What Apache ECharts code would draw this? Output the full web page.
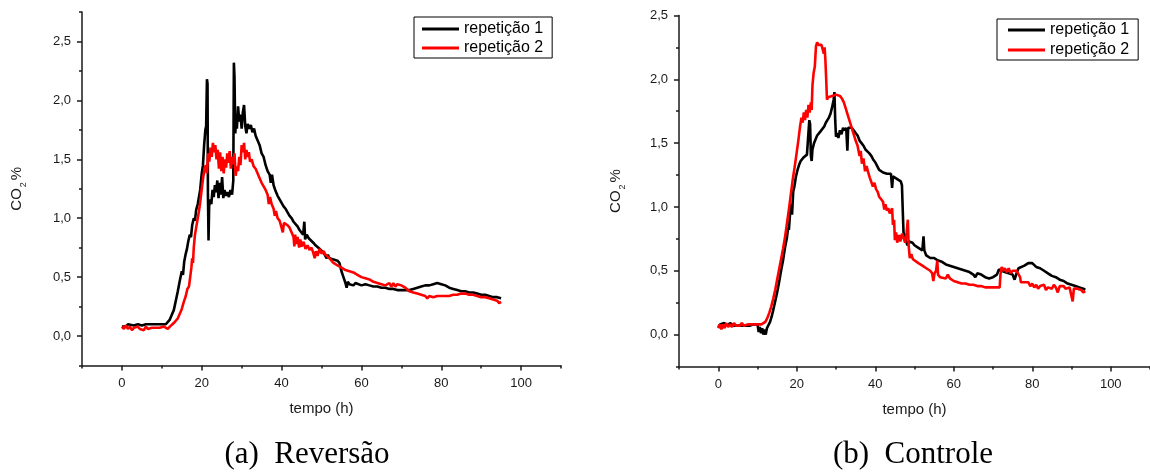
<!DOCTYPE html>
<html>
<head>
<meta charset="utf-8">
<script src="https://cdn.jsdelivr.net/npm/echarts@6/dist/echarts.min.js"></script>
<style>
  html, body { margin: 0; padding: 0; background: #fff; }
  #chart { width: 1150px; height: 475px; }
</style>
</head>
<body>
<div id="chart"></div>
<script>
// CO2 (%) against time (h), two repetitions per treatment
const seriesNames = ['repetição 1', 'repetição 2'];
const panelCaptions = ['(a)  Reversão', '(b)  Controle'];
const xAxisName = 'tempo (h)';

// tick values
const xLabelValues = [0, 20, 40, 60, 80, 100];
const xMinorValues = [-10, 10, 30, 50, 70, 90, 110];
const yLabelValues = [0, 0.5, 1, 1.5, 2, 2.5];
const yMinorValuesA = [-0.25, 0.25, 0.75, 1.25, 1.75, 2.25, 2.75];
const yMinorValuesB = [-0.25, 0.25, 0.75, 1.25, 1.75, 2.25];

// (a) Reversão — repetição 1 : [tempo, CO2]
const reversaoRep1 = [[0,0.08],[0.5,0.09],[1,0.08],[1.5,0.10],[2,0.09],[3,0.09],[4,0.10],[5,0.09],[6,0.10],[7,0.10],[7.5,0.09],[8,0.10],[9,0.10],[10,0.10],[11,0.10],[11.5,0.11],[12,0.14],[12.5,0.18],[13,0.22],[13.5,0.30],[14,0.38],[14.5,0.47],[15,0.55],[15.3,0.52],[15.6,0.63],[16,0.70],[16.3,0.74],[16.6,0.80],[17,0.86],[17.3,0.84],[17.6,0.94],[18,1.00],[18.3,0.98],[18.6,1.07],[19,1.12],[19.3,1.18],[19.6,1.24],[20,1.38],[20.3,1.45],[20.6,1.62],[20.9,1.75],[21.1,1.78],[21.3,2.18],[21.45,2.14],[21.55,1.20],[21.7,0.81],[21.85,1.10],[22.1,1.16],[22.4,1.12],[22.7,1.24],[23,1.18],[23.3,1.28],[23.6,1.22],[23.9,1.32],[24.2,1.17],[24.5,1.30],[24.8,1.20],[25.1,1.35],[25.4,1.17],[25.7,1.24],[26,1.19],[26.4,1.22],[26.8,1.18],[27.2,1.24],[27.6,1.20],[27.9,1.32],[28.05,2.32],[28.2,2.20],[28.4,1.72],[28.6,1.85],[28.8,1.76],[29.1,1.95],[29.4,1.82],[29.7,1.88],[30,1.76],[30.3,1.90],[30.6,1.96],[30.9,1.78],[31.2,1.72],[31.5,1.80],[31.9,1.76],[32.3,1.79],[32.7,1.73],[33.1,1.76],[33.5,1.70],[34,1.66],[34.5,1.62],[35,1.55],[35.5,1.52],[36,1.45],[36.5,1.40],[37,1.37],[37.3,1.30],[37.6,1.37],[38,1.28],[38.5,1.23],[39,1.19],[39.5,1.16],[40,1.13],[40.5,1.10],[41,1.08],[41.5,1.05],[42,1.02],[42.5,1.00],[43,0.97],[43.5,0.95],[44,0.93],[44.5,0.90],[45,0.89],[45.4,0.86],[45.7,0.97],[45.9,0.82],[46.3,0.86],[46.8,0.83],[47.3,0.82],[48,0.79],[48.5,0.77],[49,0.76],[49.5,0.74],[50,0.73],[50.5,0.71],[51,0.70],[51.3,0.66],[51.6,0.69],[52,0.66],[52.5,0.66],[53,0.65],[53.5,0.66],[54,0.64],[54.5,0.62],[55,0.55],[55.5,0.50],[56,0.45],[56.3,0.41],[56.6,0.46],[57,0.44],[57.5,0.45],[58,0.43],[58.5,0.45],[59,0.44],[60,0.43],[61,0.44],[62,0.43],[63,0.42],[64,0.42],[65,0.41],[66,0.41],[67,0.40],[68,0.40],[69,0.39],[70,0.39],[71,0.39],[72,0.39],[73,0.40],[74,0.41],[75,0.42],[76,0.43],[77,0.43],[78,0.44],[79,0.45],[80,0.44],[81,0.43],[82,0.41],[83,0.40],[84,0.39],[85,0.38],[86,0.38],[87,0.37],[88,0.37],[89,0.36],[90,0.35],[91,0.35],[92,0.34],[93,0.33],[94,0.33],[95,0.32]];

// (a) Reversão — repetição 2
const reversaoRep2 = [[0,0.08],[0.5,0.06],[1,0.09],[1.5,0.06],[2,0.08],[2.5,0.05],[3,0.07],[3.5,0.06],[4,0.08],[4.5,0.06],[5,0.07],[5.5,0.05],[6,0.08],[6.5,0.06],[7,0.07],[7.5,0.07],[8,0.08],[8.5,0.07],[9,0.08],[9.5,0.07],[10,0.08],[10.5,0.08],[11,0.07],[11.5,0.06],[12,0.08],[12.5,0.09],[13,0.11],[13.5,0.13],[14,0.15],[14.5,0.19],[15,0.23],[15.5,0.29],[16,0.34],[16.4,0.40],[16.8,0.42],[17.1,0.50],[17.4,0.58],[17.6,0.66],[17.8,0.62],[18,0.75],[18.3,0.86],[18.6,0.92],[19,1.00],[19.3,1.06],[19.6,1.13],[20,1.25],[20.3,1.33],[20.6,1.40],[21,1.45],[21.3,1.38],[21.6,1.55],[21.9,1.48],[22.2,1.60],[22.5,1.52],[22.8,1.64],[23.1,1.56],[23.4,1.62],[23.7,1.50],[24,1.58],[24.3,1.42],[24.6,1.56],[24.9,1.40],[25.2,1.52],[25.5,1.38],[25.8,1.50],[26.1,1.43],[26.4,1.55],[26.7,1.47],[27,1.57],[27.3,1.42],[27.6,1.52],[27.9,1.46],[28.2,1.55],[28.5,1.36],[28.8,1.44],[29.1,1.40],[29.4,1.52],[29.7,1.45],[30,1.62],[30.3,1.56],[30.6,1.64],[30.9,1.50],[31.2,1.58],[31.5,1.52],[31.8,1.56],[32.1,1.48],[32.5,1.50],[33,1.44],[33.5,1.42],[34,1.38],[34.5,1.34],[35,1.30],[35.5,1.27],[36,1.24],[36.5,1.20],[36.8,1.12],[37.1,1.18],[37.5,1.12],[38,1.08],[38.3,1.02],[38.6,1.06],[39,1.00],[39.5,0.98],[40,0.92],[40.3,0.88],[40.6,0.96],[41,0.97],[41.5,0.94],[42,0.92],[42.5,0.88],[43,0.84],[43.2,0.76],[43.4,0.86],[43.7,0.78],[44,0.84],[44.4,0.75],[44.7,0.82],[45,0.76],[45.5,0.80],[46,0.74],[46.5,0.77],[47,0.73],[47.5,0.75],[48,0.70],[48.3,0.66],[48.6,0.72],[49,0.68],[49.5,0.74],[50,0.70],[50.5,0.72],[51,0.69],[51.5,0.68],[52,0.66],[52.5,0.64],[53,0.62],[54,0.60],[55,0.58],[56,0.56],[57,0.55],[58,0.54],[59,0.52],[60,0.50],[61,0.49],[62,0.48],[63,0.46],[64,0.45],[65,0.44],[66,0.43],[67,0.45],[67.5,0.42],[68,0.45],[68.5,0.42],[69,0.44],[70,0.43],[71,0.41],[72,0.38],[73,0.37],[74,0.36],[75,0.35],[76,0.34],[76.5,0.32],[77,0.34],[78,0.33],[79,0.34],[80,0.34],[81,0.34],[82,0.34],[83,0.35],[84,0.35],[85,0.36],[86,0.36],[87,0.35],[88,0.35],[89,0.34],[90,0.33],[91,0.33],[92,0.32],[93,0.31],[94,0.30],[94.5,0.28],[95,0.29]];

// (b) Controle — repetição 1
const controleRep1 = [[0,0.06],[0.5,0.08],[1,0.07],[1.5,0.09],[2,0.08],[2.5,0.07],[3,0.09],[3.5,0.08],[4,0.07],[4.5,0.08],[5,0.07],[5.5,0.08],[6,0.07],[6.5,0.08],[7,0.07],[7.5,0.08],[8,0.07],[8.5,0.08],[9,0.08],[9.5,0.08],[10,0.08],[10.3,0.02],[10.6,0.06],[10.9,0.01],[11.2,0.05],[11.5,0.00],[11.8,0.04],[12.1,0.00],[12.4,0.05],[12.8,0.06],[13.2,0.10],[13.6,0.14],[14,0.19],[14.5,0.26],[15,0.33],[15.5,0.41],[16,0.50],[16.5,0.58],[17,0.68],[17.5,0.76],[17.8,0.84],[18,0.82],[18.3,0.95],[18.6,1.02],[18.8,0.94],[19.1,1.12],[19.4,1.16],[19.8,1.24],[20.2,1.29],[20.6,1.33],[21,1.36],[21.4,1.37],[21.8,1.39],[22.2,1.38],[22.6,1.41],[23,1.40],[23.2,1.68],[23.4,1.65],[23.6,1.40],[23.8,1.36],[24,1.45],[24.4,1.50],[24.8,1.53],[25.2,1.56],[25.6,1.57],[26,1.59],[26.5,1.60],[27,1.63],[27.4,1.66],[27.8,1.68],[28.2,1.70],[28.6,1.73],[29,1.78],[29.4,1.84],[29.6,1.90],[29.8,1.68],[30,1.55],[30.3,1.58],[30.6,1.54],[31,1.60],[31.4,1.57],[31.8,1.62],[32.2,1.60],[32.6,1.62],[32.9,1.44],[33.1,1.62],[33.5,1.61],[34,1.62],[34.5,1.60],[35,1.58],[35.5,1.56],[36,1.52],[36.5,1.50],[37,1.48],[37.5,1.45],[38,1.44],[38.5,1.42],[39,1.40],[39.5,1.37],[40,1.35],[40.5,1.32],[41,1.29],[41.5,1.28],[42,1.27],[42.5,1.27],[43,1.26],[43.5,1.25],[44,1.26],[44.3,1.15],[44.5,1.24],[45,1.24],[45.5,1.22],[46,1.21],[46.5,1.20],[46.8,1.17],[47,0.98],[47.2,0.80],[47.5,0.78],[47.8,0.74],[48.2,0.70],[48.6,0.73],[49,0.72],[49.5,0.72],[50,0.70],[50.5,0.69],[51,0.68],[51.5,0.67],[52,0.66],[52.3,0.77],[52.5,0.66],[53,0.62],[53.5,0.61],[54,0.60],[55,0.60],[56,0.58],[57,0.57],[58,0.55],[59,0.54],[60,0.53],[61,0.52],[62,0.51],[63,0.50],[64,0.49],[65,0.47],[65.5,0.45],[66,0.48],[66.5,0.49],[67,0.47],[68,0.45],[69,0.44],[70,0.45],[71,0.47],[71.5,0.51],[72,0.50],[73,0.49],[74,0.48],[75,0.47],[75.5,0.43],[76,0.48],[76.5,0.52],[77,0.53],[78,0.54],[79,0.56],[80,0.56],[80.5,0.55],[81,0.53],[82,0.52],[83,0.50],[84,0.48],[85,0.46],[86,0.45],[87,0.43],[88,0.42],[89,0.40],[90,0.39],[91,0.38],[92,0.37],[93,0.36],[93.5,0.35]];

// (b) Controle — repetição 2
const controleRep2 = [[0,0.05],[0.4,0.08],[0.8,0.04],[1.2,0.08],[1.6,0.05],[2,0.09],[2.5,0.06],[3,0.08],[3.5,0.06],[4,0.09],[4.5,0.07],[5,0.08],[5.5,0.07],[6,0.09],[6.5,0.07],[7,0.08],[7.5,0.08],[8,0.07],[8.5,0.08],[9,0.08],[10,0.08],[11,0.08],[11.5,0.08],[12,0.10],[12.5,0.13],[13,0.17],[13.5,0.22],[14,0.28],[14.5,0.35],[15,0.43],[15.5,0.51],[16,0.59],[16.5,0.67],[17,0.76],[17.5,0.87],[18,0.98],[18.5,1.10],[19,1.22],[19.5,1.32],[20,1.43],[20.4,1.52],[20.8,1.62],[21.2,1.70],[21.5,1.66],[21.8,1.74],[22.1,1.68],[22.4,1.76],[22.7,1.70],[23,1.80],[23.3,1.74],[23.6,1.82],[23.8,1.76],[24,1.95],[24.3,2.05],[24.6,2.10],[24.9,2.26],[25.2,2.29],[25.5,2.27],[25.9,2.28],[26.3,2.27],[26.6,2.28],[26.9,2.20],[27.1,2.25],[27.3,2.15],[27.5,2.00],[27.7,1.84],[28,1.86],[28.5,1.86],[29,1.87],[29.5,1.88],[30,1.88],[30.5,1.88],[31,1.87],[31.5,1.85],[32,1.82],[32.5,1.77],[33,1.72],[33.5,1.67],[34,1.62],[34.5,1.57],[35,1.52],[35.5,1.48],[36,1.40],[36.3,1.44],[36.6,1.34],[37,1.38],[37.4,1.28],[37.8,1.32],[38.2,1.27],[38.6,1.23],[39,1.22],[39.4,1.16],[39.8,1.19],[40.2,1.14],[40.6,1.12],[41,1.08],[41.5,1.06],[42,1.04],[42.3,0.98],[42.6,1.02],[43,0.97],[43.3,0.99],[43.7,0.95],[44,0.94],[44.3,0.99],[44.5,0.86],[44.8,0.90],[45,0.74],[45.3,0.80],[45.6,0.72],[46,0.78],[46.4,0.73],[46.8,0.79],[47.2,0.76],[47.6,0.72],[48,0.80],[48.3,0.90],[48.5,0.70],[48.8,0.60],[49.2,0.63],[49.6,0.59],[50,0.58],[51,0.56],[52,0.54],[53,0.52],[54,0.50],[54.5,0.48],[54.8,0.42],[55.1,0.48],[55.5,0.50],[55.8,0.58],[56,0.47],[56.5,0.45],[57,0.45],[58,0.44],[58.5,0.47],[59,0.44],[60,0.42],[61,0.41],[62,0.40],[63,0.40],[64,0.39],[65,0.39],[66,0.38],[67,0.38],[68,0.37],[69,0.37],[70,0.37],[71,0.37],[71.7,0.37],[71.9,0.47],[72.2,0.53],[72.6,0.50],[73,0.52],[73.5,0.49],[74,0.52],[74.5,0.48],[75,0.50],[75.5,0.51],[76,0.50],[76.5,0.49],[76.9,0.45],[77.1,0.41],[77.5,0.42],[78,0.41],[79,0.41],[79.5,0.38],[80,0.40],[80.5,0.37],[81,0.39],[81.5,0.36],[82,0.38],[82.5,0.37],[83,0.39],[83.5,0.35],[84,0.37],[84.5,0.38],[85,0.36],[85.5,0.39],[86,0.37],[86.5,0.33],[87,0.38],[87.5,0.37],[88,0.38],[88.5,0.36],[89,0.37],[89.5,0.37],[90,0.36],[90.3,0.26],[90.6,0.36],[91,0.37],[91.5,0.36],[92,0.37],[92.5,0.35],[93,0.33],[93.5,0.34]];

const INK = '#1a1a1a';
const SANS = '"Liberation Sans", Arial, sans-serif';
const SERIF = '"Liberation Serif", "Times New Roman", serif';
const lineColors = ['#000000', '#ff0000'];

const grids = [
  { left: 82, top: 12, width: 479, height: 353.5 },
  { left: 679, top: 15.5, width: 473, height: 351 }
];
const yMaxes = [2.75, 2.5];
const yMinorSets = [yMinorValuesA, yMinorValuesB];
const yNameGaps = [56, 54];

const decimalComma = v => v.toFixed(1).replace('.', ',');

const xAxes = [];
const yAxes = [];
grids.forEach((g, i) => {
  // main x axis: line, long ticks, labels, name
  xAxes.push({
    type: 'value', gridIndex: i, min: -10, max: 110, position: 'bottom',
    axisLine: { show: true, onZero: false, lineStyle: { color: INK, width: 1.5 } },
    axisTick: { show: true, length: 5, customValues: xLabelValues, lineStyle: { color: INK, width: 1.5 } },
    axisLabel: { show: true, customValues: xLabelValues, margin: 11, fontSize: 13, fontFamily: SANS, color: INK },
    splitLine: { show: false },
    name: xAxisName, nameLocation: 'middle', nameGap: 36,
    nameTextStyle: { fontSize: 15, fontFamily: SANS, color: INK }
  });
  // short ticks between the labelled values
  xAxes.push({
    type: 'value', gridIndex: i, min: -10, max: 110, position: 'bottom',
    axisLine: { show: false, onZero: false },
    axisTick: { show: true, length: 3, customValues: xMinorValues, lineStyle: { color: INK, width: 1.5 } },
    axisLabel: { show: false },
    splitLine: { show: false }
  });
  yAxes.push({
    type: 'value', gridIndex: i, min: -0.25, max: yMaxes[i], position: 'left',
    axisLine: { show: true, onZero: false, lineStyle: { color: INK, width: 1.5 } },
    axisTick: { show: true, length: 5, customValues: yLabelValues, lineStyle: { color: INK, width: 1.5 } },
    axisLabel: { show: true, customValues: yLabelValues, formatter: decimalComma, margin: 11, fontSize: 13, fontFamily: SANS, color: INK },
    splitLine: { show: false },
    name: '{n|CO}{s|2}{n|%}', nameLocation: 'middle', nameGap: yNameGaps[i],
    nameTextStyle: {
      color: INK,
      rich: {
        n: { fontSize: 15, fontFamily: SANS, color: INK, lineHeight: 17, verticalAlign: 'top' },
        s: { fontSize: 9, fontFamily: SANS, color: INK, lineHeight: 10, padding: [10, 2, 0, 1], verticalAlign: 'top' }
      }
    }
  });
  yAxes.push({
    type: 'value', gridIndex: i, min: -0.25, max: yMaxes[i], position: 'left',
    axisLine: { show: false, onZero: false },
    axisTick: { show: true, length: 3, customValues: yMinorSets[i], lineStyle: { color: INK, width: 1.5 } },
    axisLabel: { show: false },
    splitLine: { show: false }
  });
});

const panelData = [[reversaoRep1, reversaoRep2], [controleRep1, controleRep2]];
const series = [];
panelData.forEach((pair, i) => {
  pair.forEach((data, k) => {
    series.push({
      type: 'line', name: seriesNames[k],
      xAxisIndex: i * 2, yAxisIndex: i * 2,
      data: data, symbol: 'none', showSymbol: false,
      lineStyle: { color: lineColors[k], width: 2.6 },
      itemStyle: { color: lineColors[k] },
      z: 2 + k
    });
  });
});

const legendBase = {
  data: seriesNames, orient: 'vertical', icon: 'rect',
  itemWidth: 37, itemHeight: 3,
  borderColor: '#000', borderWidth: 1, borderRadius: 0,
  textStyle: { fontSize: 16, fontFamily: SANS, color: '#000' },
  selectedMode: false
};

const option = {
  animation: false,
  backgroundColor: '#ffffff',
  grid: grids,
  xAxis: xAxes,
  yAxis: yAxes,
  legend: [
    Object.assign({}, legendBase, { left: 414, top: 17, padding: [4, 9, 2, 8], itemGap: 3 }),
    Object.assign({}, legendBase, { left: 997, top: 19, padding: [3, 9, 2, 11], itemGap: 4 })
  ],
  graphic: [
    { type: 'text', x: 307, y: 455, style: { text: panelCaptions[0], font: '31px ' + SERIF, fill: '#000', textAlign: 'center', textVerticalAlign: 'middle' } },
    { type: 'text', x: 913, y: 455, style: { text: panelCaptions[1], font: '31px ' + SERIF, fill: '#000', textAlign: 'center', textVerticalAlign: 'middle' } }
  ],
  series: series
};

const chart = echarts.init(document.getElementById('chart'), null, { renderer: 'canvas' });
chart.setOption(option);
</script>
</body>
</html>
